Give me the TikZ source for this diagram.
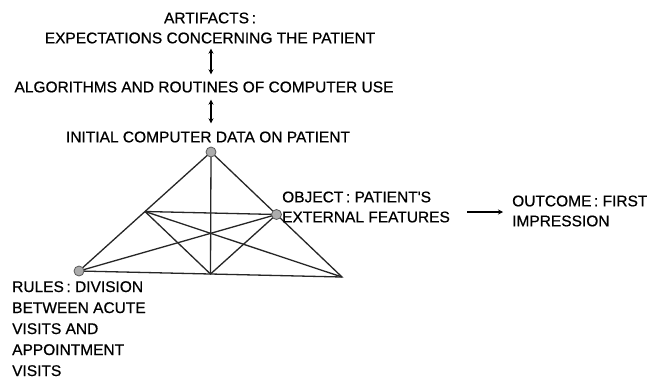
\documentclass[tikz,border=0pt]{standalone}
\usepackage{fontspec}
\newfontfamily\lblfont{Liberation Sans}[FakeBold=0.6]
\usetikzlibrary{arrows.meta,calc}
\tikzset{
  lbl/.style={inner sep=0pt, font=\lblfont\fontsize{15.5}{20}\selectfont},
  edge/.style={line width=1.3pt, draw=black!85},
  vertex/.style={circle, minimum size=10pt, inner sep=0pt, fill=gray!65, draw=black!65, line width=0.8pt},
  dbl/.style={line width=1.6pt, {Stealth[length=5pt,width=5pt]}-{Stealth[length=5pt,width=5pt]}},
  fwd/.style={line width=1.1pt, -{Stealth[length=5pt,width=5pt]}}
}
\begin{document}
\begin{tikzpicture}[x=1pt,y=-1pt]
  \useasboundingbox[fill=white] (0,0) rectangle (647,378);

  % labels above the triangle
  \node[lbl, align=center] (art) at (210,28) {ARTIFACTS\,:\\EXPECTATIONS CONCERNING THE PATIENT};
  \node[lbl] (alg) at (204,87) {ALGORITHMS AND ROUTINES OF COMPUTER USE};
  \node[lbl] (init) at (208,137) {INITIAL COMPUTER DATA ON PATIENT};

  \draw[dbl, shorten <=5pt, shorten >=7pt] (art.south -| 211,0) -- (alg.north -| 211,0);
  \draw[dbl, shorten <=7pt, shorten >=8pt] (alg.south -| 211,0) -- (init.north -| 211,0);

  % triangle corners and midpoints
  \coordinate (top) at (211,152);
  \coordinate (bl) at (79,271);
  \coordinate (br) at (342,277);
  \coordinate (lm) at ($(top)!0.5!(bl)$);
  \coordinate (rm) at ($(top)!0.5!(br)$);
  \coordinate (bm) at ($(bl)!0.5!(br)$);

  \draw[edge] (top) -- (bl) -- (br) -- cycle;
  \draw[edge] (top) -- (bm);
  \draw[edge] (lm) -- (rm);
  \draw[edge] (lm) -- (bm) -- (rm);
  \draw[edge] (lm) -- (br);
  \draw[edge] (rm) -- (bl);

  \node[vertex] (subj) at (top) {};
  \node[vertex] (obj) at (rm) {};
  \node[vertex] (rules) at (bl) {};

  % object, outcome and rules labels
  \node[lbl, align=left, anchor=west] (objtxt) at (282,207) {OBJECT\,: PATIENT\textquotesingle S\\EXTERNAL FEATURES};
  \node[lbl, align=left, anchor=west] (outtxt) at (512,211) {OUTCOME\,: FIRST\\IMPRESSION};
  \draw[fwd] (467,212) coordinate (a0) -- (503,212) coordinate (a1);
  \node[lbl, align=left, anchor=north west, font=\lblfont\fontsize{15.5}{21}\selectfont] (rulestxt) at (12,281)
    {RULES\,: DIVISION\\BETWEEN ACUTE\\VISITS AND\\APPOINTMENT\\VISITS};
\end{tikzpicture}
\end{document}
